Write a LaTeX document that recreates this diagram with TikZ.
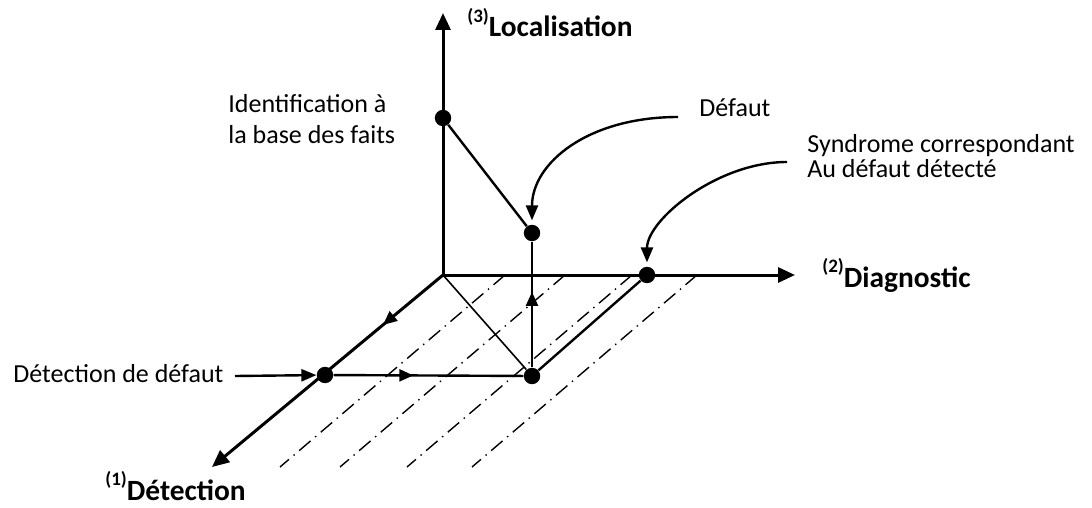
\documentclass[tikz,border=0pt]{standalone}
\usepackage{fontspec}
\setmainfont{Carlito}
\usetikzlibrary{positioning, arrows.meta, decorations.markings}

\newcommand{\axisname}[2]{\textbf{\raisebox{0.5em}{\fontsize{9.5}{9.5}\selectfont(#1)}#2}}

\begin{document}
\begin{tikzpicture}[x=0.5pt, y=-0.5pt,
    axis/.style={line width=1.5pt, -{Triangle[length=8.5pt, width=7.5pt]}},
    link/.style={line width=1.2pt},
    thinlink/.style={line width=0.8pt},
    dot/.style={circle, fill=black, inner sep=0pt, minimum size=8.2pt},
    guide/.style={line width=0.7pt, dash pattern=on 7.5pt off 3pt on 0.7pt off 3pt},
    pointer/.style={line width=1.2pt, -{Triangle[length=7.5pt, width=6pt]}, shorten >=2pt},
    midarrow/.style={postaction={decorate}, decoration={markings,
      mark=at position #1 with {\arrow{Triangle[length=7pt, width=6pt]}}}},
    note/.style={inner sep=0pt, anchor=base west, font=\fontsize{13}{15.5}\selectfont},
    axislabel/.style={inner sep=0pt, anchor=base west, font=\fontsize{14.7}{16}\selectfont}
  ]
  \useasboundingbox (0,0) rectangle (1092,508);

  % axes
  \coordinate (O) at (443,275);
  \coordinate (ztip) at (443,13);
  \coordinate (xtip) at (795,275);
  \coordinate (ytip) at (212,467);

  % points
  \node[dot] (P3) at (443,118) {};
  \node[dot] (D) at (532,233) {};
  \node[dot] (B) at (532,376) {};
  \node[dot] (S) at (647,275) {};
  \node[dot] (Dt) at (325,375) {};

  \coordinate (inA) at (235,376);
  \coordinate (defA) at (678,117);
  \coordinate (synA) at (787,162);

  % dash-dot plane
  \foreach \gx in {505,565,632,697}
    \draw[guide] (\gx,275) -- ++(-225,192);

  \draw[axis] (O) -- (ztip);
  \draw[axis] (O) -- (xtip);
  \draw[axis, midarrow=0.26] (O) -- (ytip);

  \draw[thinlink] (O) -- (B);
  \draw[link] (P3) -- (D);
  \draw[link] (B) -- (S);
  \draw[link, midarrow=0.42] (Dt) -- (B);
  \draw[link, midarrow=0.6] (B) -- (D);
  \draw[link, -{Triangle[length=7.5pt, width=6pt]}] (inA) -- (Dt);

  \draw[pointer] (defA) .. controls +(-90,0) and +(0,-70) .. (D);
  \draw[pointer] (synA) .. controls +(-70,0) and +(0,-55) .. (S);

  % labels
  \node[axislabel] (loc) at (467,37) {\axisname{3}{Localisation}};
  \node[axislabel] (diag) at (822,287) {\axisname{2}{Diagnostic}};
  \node[axislabel] (det) at (105,500) {\axisname{1}{Détection}};
  \node[note, align=left] (ident) at (228,143) {Identification à\\la base des faits};
  \node[note] (def) at (699,117) {Défaut};
  \node[note, align=left, font=\fontsize{13}{11}\selectfont] (syn) at (807,177) {Syndrome correspondant\\Au défaut détecté};
  \node[note] (detdef) at (13,382) {Détection de défaut};
\end{tikzpicture}
\end{document}
